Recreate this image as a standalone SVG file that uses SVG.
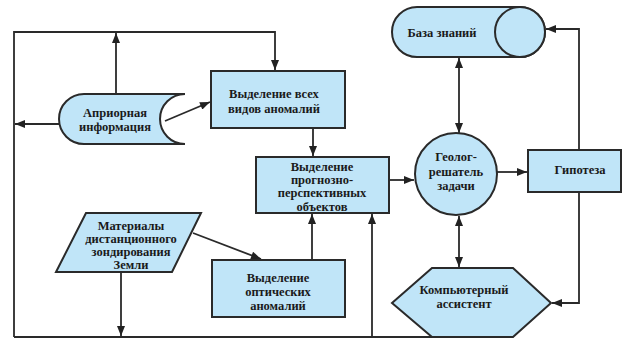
<svg xmlns="http://www.w3.org/2000/svg" width="623" height="340" viewBox="0 0 623 340">
<defs>
<marker id="arr" viewBox="0 0 10 8" refX="10" refY="4" markerWidth="11" markerHeight="8" markerUnits="userSpaceOnUse" orient="auto-start-reverse">
<path d="M0,0 L10,4 L0,8 Z" fill="#222"/>
</marker>
</defs>
<style>
.n{fill:#c0e5f8;stroke:#2a2a2a;stroke-width:2}
.c{fill:none;stroke:#2a2a2a;stroke-width:1.8}
.a{marker-end:url(#arr)}
.d{marker-start:url(#arr);marker-end:url(#arr)}
text{font-family:"Liberation Serif","Times New Roman","DejaVu Serif",serif;font-weight:bold;font-size:12.5px;fill:#1a1a1a;text-anchor:middle}
</style>
<rect width="623" height="340" fill="#fff"/>
<g id="connectors">
<path class="c a" d="M14 337 V32 H275 V70"/>
<path class="c a" d="M116 94 V33"/>
<path class="c a" d="M59 124 H15"/>
<path class="c a" d="M165 121 L210 102"/>
<path class="c a" d="M313 128 V156"/>
<path class="c a" d="M312 260 V214"/>
<path class="c" d="M14 337 H432"/>
<path class="c a" d="M372 337 V214"/>
<path class="c a" d="M121 272 V336"/>
<path class="c a" d="M193 233 L261 259"/>
<path class="c a" d="M389 180 H414"/>
<path class="c a" d="M497 172 H527"/>
<path class="c a" d="M579 150 V29 H546"/>
<path class="c a" d="M579 192 V303 H552"/>
<path class="c d" d="M459 58 V133"/>
<path class="c d" d="M459 216 V267"/>
</g>
<g id="baza">
<path class="n" d="M417 7 H520 A25 25 0 0 1 520 57 H417 A25 25 0 0 1 417 7 Z"/>
<ellipse class="n" cx="520" cy="32" rx="25" ry="25"/>
<text x="442" y="37">База знаний</text>
</g>
<g id="apriori">
<path class="n" d="M84 94 H185 A25 25 0 0 0 185 144 H84 A25 25 0 0 1 84 94 Z"/>
<text x="115" y="117">Априорная</text>
<text x="115" y="131">информация</text>
</g>
<g id="box1">
<rect class="n" x="211" y="71" width="134" height="57"/>
<text x="274" y="98">Выделение всех</text>
<text x="274" y="113">видов аномалий</text>
</g>
<g id="box2">
<rect class="n" x="256" y="157" width="133" height="56"/>
<text x="322" y="171">Выделение</text>
<text x="322" y="184">прогнозно-</text>
<text x="322" y="197">перспективных</text>
<text x="322" y="211">объектов</text>
</g>
<g id="geolog">
<circle class="n" cx="456" cy="174" r="41"/>
<text x="456" y="161">Геолог-</text>
<text x="456" y="176">решатель</text>
<text x="456" y="190">задачи</text>
</g>
<g id="gipoteza">
<rect class="n" x="528" y="150" width="93" height="42"/>
<text x="580" y="174">Гипотеза</text>
</g>
<g id="materials">
<path class="n" d="M86 213 H201 L172 272 H56 Z"/>
<text x="131" y="230">Материалы</text>
<text x="131" y="243">дистанционного</text>
<text x="131" y="256">зондирования</text>
<text x="131" y="269">Земли</text>
</g>
<g id="box3">
<rect class="n" x="212" y="260" width="133" height="57"/>
<text x="278" y="282">Выделение</text>
<text x="278" y="296">оптических</text>
<text x="278" y="310">аномалий</text>
</g>
<g id="assistant">
<path class="n" d="M432 268 H513 L551 303 L513 337 H432 L392 303 Z"/>
<text x="464" y="294">Компьютерный</text>
<text x="464" y="308">ассистент</text>
</g>
</svg>
